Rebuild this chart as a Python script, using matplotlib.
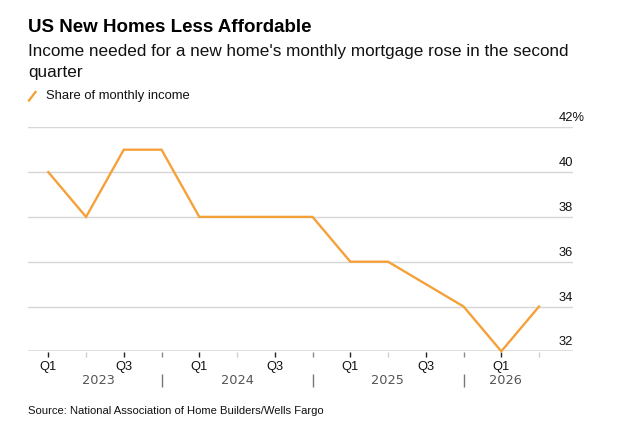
import matplotlib
matplotlib.use("Agg")
import matplotlib.pyplot as plt
import matplotlib.transforms as mtransforms

# Data
quarters = ["Q1", "Q2", "Q3", "Q4"] * 3 + ["Q1", "Q2"]
years = ["2023", "2024", "2025", "2026"]
share = [40, 38, 41, 41, 38, 38, 38, 38, 36, 36, 35, 34, 32, 34]
yticks = [32, 34, 36, 38, 40, 42]

LINE = "#F5A13A"
W, H = 618, 434
fig = plt.figure(figsize=(W / 100, H / 100), dpi=100)
plt.rcParams["font.family"] = ["Liberation Sans", "DejaVu Sans"]

def fx(px):
    return px / W

def fy(py):
    return 1 - py / H

ax_l, ax_r, ax_t, ax_b = 28.3, 573, 127.3, 351.3
ax = fig.add_axes([fx(ax_l), fy(ax_b), fx(ax_r - ax_l), (ax_b - ax_t) / H])

x = list(range(len(share)))
ax.plot(x, share, color=LINE, lw=1.7, solid_joinstyle="miter", clip_on=False, zorder=3)

sp = 37.75
ax.set_xlim((ax_l - 48.3) / sp, (ax_r - 48.3) / sp)
ax.set_ylim(32, 42)

for s in ax.spines.values():
    s.set_visible(False)

for v in yticks:
    if v == 32:
        ax.axhline(v, color="#DCDCDC", lw=2.0, zorder=1)
    else:
        ax.axhline(v, color="#D6D6D6", lw=1.0, zorder=1)
    lab = f"{v}%" if v == 42 else f"{v}"
    ax.annotate(lab, xy=((559 - ax_l) / (ax_r - ax_l), v),
                xycoords=("axes fraction", "data"),
                xytext=(0, 4.3), textcoords="offset points",
                ha="left", va="baseline", fontsize=9.3, color="#111111")
ax.set_yticks([])

ax.set_xticks(x)
ax.set_xticklabels([q if q in ("Q1", "Q3") else "" for q in quarters], fontsize=9.3, color="#111111")
ax.tick_params(axis="x", length=0, pad=7)

trans = mtransforms.blended_transform_factory(ax.transData, ax.transAxes)
ah = ax_b - ax_t
def ay(py):
    return (ax_b - py) / ah

tick_col = {"Q1": "#222222", "Q3": "#222222", "Q2": "#CFCFCF", "Q4": "#8A8A8A"}
for i, q in zip(x, quarters):
    ax.plot([i, i], [ay(352), ay(357)], transform=trans, color=tick_col[q], lw=1.0,
            clip_on=False, solid_capstyle="butt")

sep_pos = [i for i, q in enumerate(quarters) if q == "Q4"]
for p in sep_pos:
    ax.plot([p, p], [ay(374), ay(387)], transform=trans, color="#777777", lw=1.0,
            clip_on=False, solid_capstyle="butt")
year_x = [(98 - 48.3) / sp, (237 - 48.3) / sp, (387 - 48.3) / sp, (505 - 48.3) / sp]
for yx, yl in zip(year_x, years):
    ax.text(yx, ay(380), yl, transform=trans, ha="center", va="center",
            fontsize=9.3, color="#555555", family=["DejaVu Sans"])

fig.text(fx(28), fy(31.7), "US New Homes Less Affordable", fontsize=13.5, fontweight="bold",
         ha="left", va="baseline", color="#000000")
fig.text(fx(28), fy(55.7), "Income needed for a new home's monthly mortgage rose in the second",
         fontsize=12.3, ha="left", va="baseline", color="#111111")
fig.text(fx(28), fy(76.5), "quarter", fontsize=12.3, ha="left", va="baseline", color="#111111")

fig.add_artist(plt.Line2D([fx(29), fx(35.5)], [fy(100.5), fy(92)], color=LINE, lw=1.7))
fig.text(fx(46), fy(99.3), "Share of monthly income", fontsize=9.4, ha="left", va="baseline", color="#111111")

fig.text(fx(28), fy(414.5), "Source: National Association of Home Builders/Wells Fargo",
         fontsize=8.1, ha="left", va="baseline", color="#111111")

fig.savefig("out.png", dpi=100)
